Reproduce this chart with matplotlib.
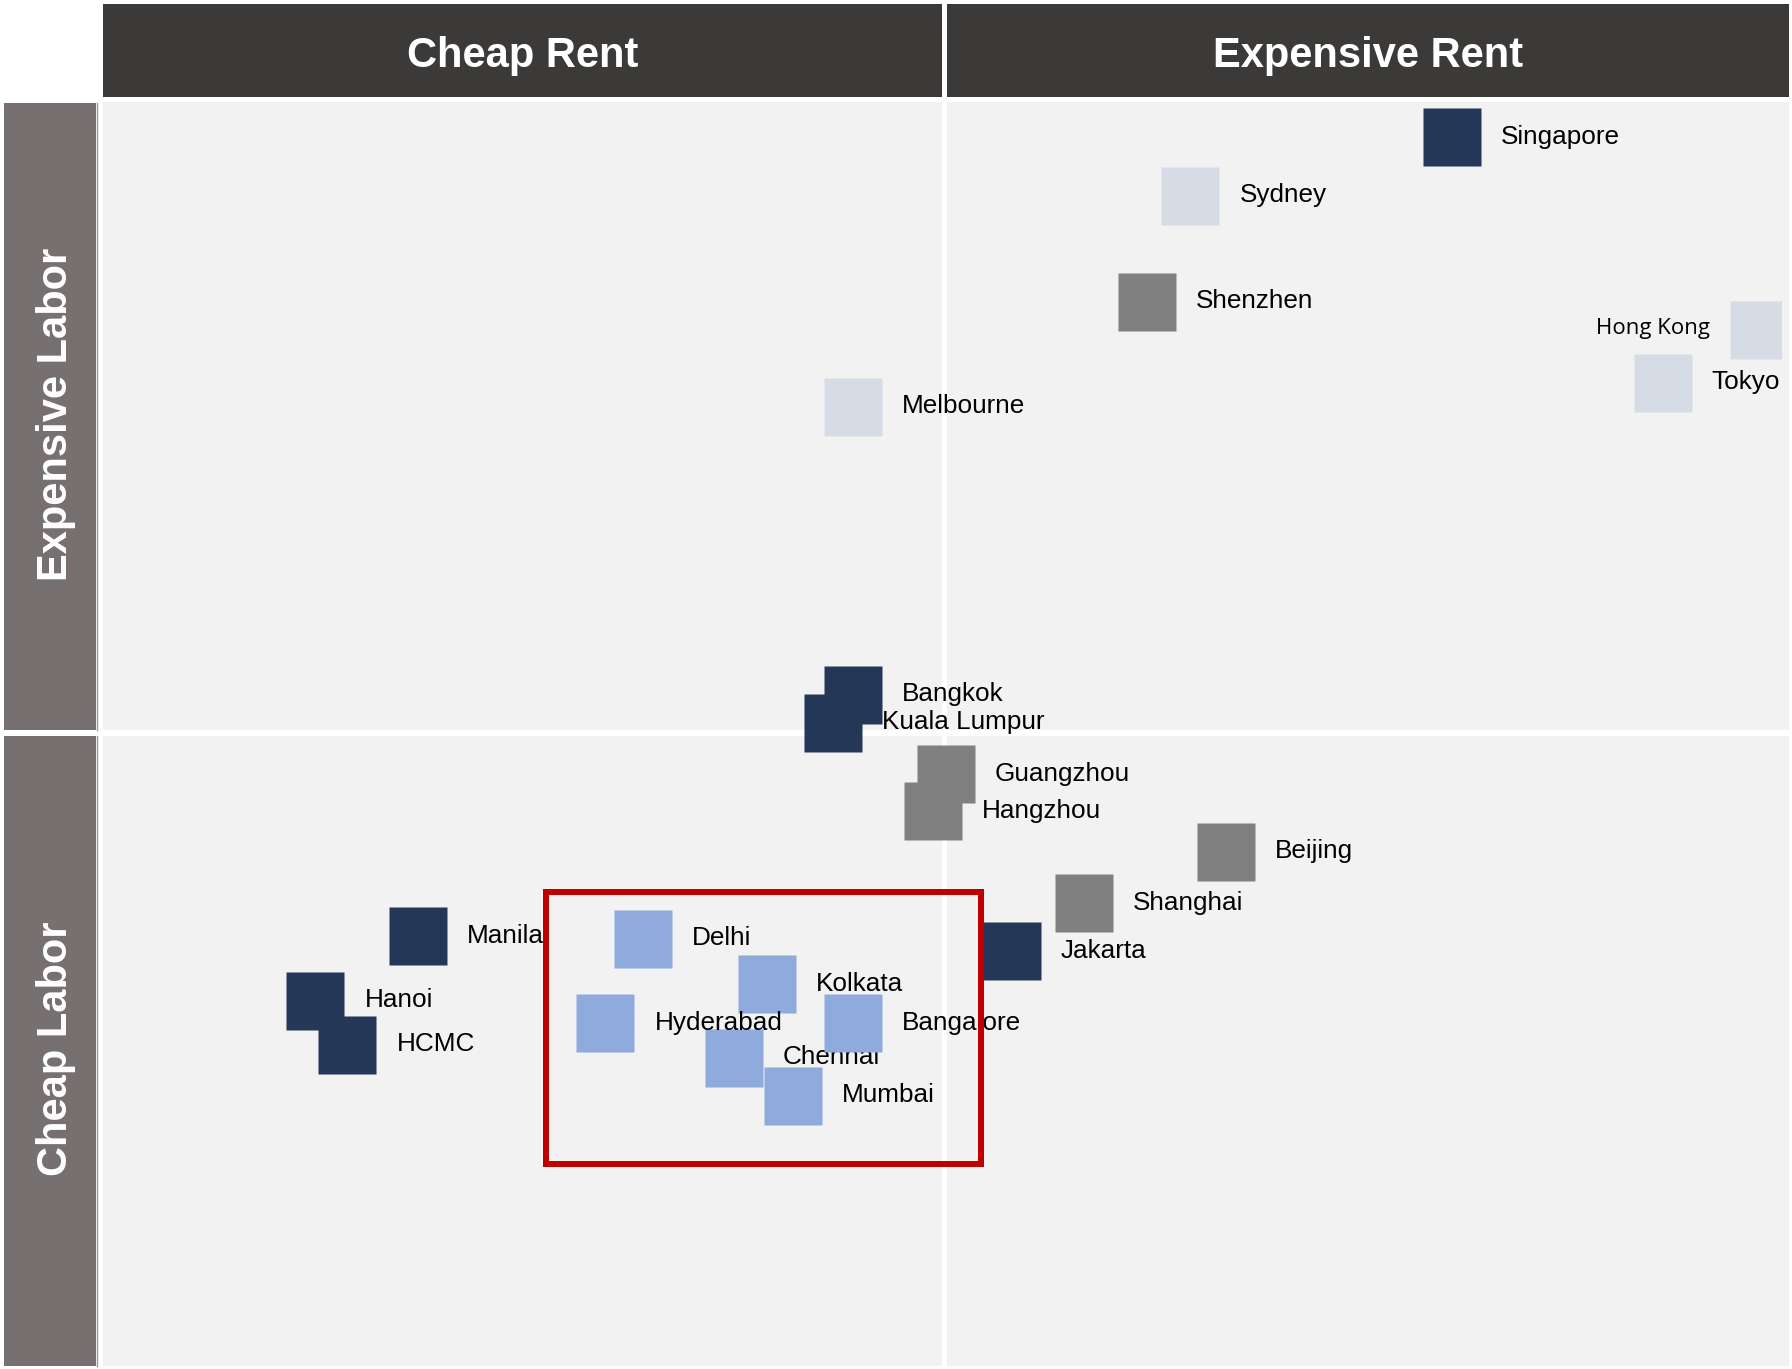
import matplotlib
matplotlib.use("Agg")
import matplotlib.pyplot as plt
from matplotlib.patches import Rectangle

# ---------------- data ----------------
cities = ["Singapore", "Sydney", "Shenzhen", "Hong Kong", "Tokyo", "Melbourne",
          "Bangkok", "Kuala Lumpur", "Guangzhou", "Hangzhou", "Beijing", "Shanghai",
          "Jakarta", "Manila", "Hanoi", "HCMC",
          "Delhi", "Kolkata", "Chennai", "Hyderabad", "Bangalore", "Mumbai"]
rent = [80.0, 64.5, 61.9, 98.2, 92.5, 44.5,
        44.5, 43.3, 50.0, 49.2, 66.6, 58.2,
        53.9, 18.7, 12.6, 14.5,
        32.0, 39.4, 37.4, 29.8, 44.5, 40.9]
labor = [97.2, 92.6, 84.2, 82.0, 77.8, 75.9,
         53.1, 50.9, 46.8, 43.9, 40.7, 36.6,
         32.8, 34.0, 28.9, 25.4,
         33.8, 30.2, 24.4, 27.1, 27.1, 21.4]
group = ["SEA", "AUJ", "CN", "AUJ", "AUJ", "AUJ",
         "SEA", "SEA", "CN", "CN", "CN", "CN",
         "SEA", "SEA", "SEA", "SEA",
         "IN", "IN", "IN", "IN", "IN", "IN"]
label_side = ["right"] * len(cities)
label_side[cities.index("Hong Kong")] = "left"

col_headers = ["Cheap Rent", "Expensive Rent"]
row_headers = ["Expensive Labor", "Cheap Labor"]

focus_rent = [26.3, 52.1]
focus_labor = [16.0, 37.5]

colors = {"SEA": "#243757", "CN": "#808080", "AUJ": "#D6DCE5", "IN": "#8FAADC"}

# ---------------- figure ----------------
W, H = 1792, 1369
fig = plt.figure(figsize=(W / 100, H / 100), dpi=100)
fig.patch.set_facecolor("white")

bg = fig.add_axes([0, 0, 1, 1])
bg.set_xlim(0, W)
bg.set_ylim(H, 0)
bg.axis("off")

header_c = "#3B3A38"
strip_c = "#767170"
panel_c = "#F2F2F2"

# headers
bg.add_patch(Rectangle((103, 3.5), 839, 93, fc=header_c, ec="none"))
bg.add_patch(Rectangle((947, 3.5), 842, 93, fc=header_c, ec="none"))
# left strips
bg.add_patch(Rectangle((4, 103), 92, 627, fc=strip_c, ec="none"))
bg.add_patch(Rectangle((4, 736), 92, 630, fc=strip_c, ec="none"))
bg.plot([96.5, 96.5], [103, 730], color="#9C9896", lw=1)
bg.plot([96.5, 96.5], [736, 1366], color="#9C9896", lw=1)
# quadrants
for (x0, w) in [(103, 839), (947, 842)]:
    for (y0, h) in [(102, 628), (736, 630)]:
        bg.add_patch(Rectangle((x0, y0), w, h, fc=panel_c, ec="none"))

hfont = dict(family="Liberation Sans", weight="bold", size=30, color="white")
bg.text((103 + 942) / 2, 55.5, col_headers[0], ha="center", va="center", **hfont)
bg.text((947 + 1789) / 2, 55.5, col_headers[1], ha="center", va="center", **hfont)
bg.text(56, (103 + 730) / 2 - 2, row_headers[0], ha="center", va="center", rotation=90, **hfont)
bg.text(56, (736 + 1366) / 2 - 2, row_headers[1], ha="center", va="center", rotation=90, **hfont)

# data axes
ax = fig.add_axes([103 / W, (H - 1366) / H, 1686 / W, 1264 / H])
ax.set_xlim(0, 100)
ax.set_ylim(0, 100)
ax.patch.set_alpha(0)
ax.axis("off")

clip = Rectangle((0, 0), (1781 - 103) / 1686, 1, transform=ax.transAxes,
                 fc="none", ec="none")
ax.add_patch(clip)

ms = 58 * 0.72
for name, x, y, g, side in zip(cities, rent, labor, group, label_side):
    ln, = ax.plot([x], [y], marker="s", ms=ms, mfc=colors[g], mec="none",
                  ls="none", zorder=3)
    ln.set_clip_path(clip)
    if side == "right":
        ax.annotate(name, (x, y), xytext=(35.3, -4.7), textcoords="offset points",
                    ha="left", va="baseline", family="Liberation Sans",
                    size=18.8, color="black", zorder=3)
    else:
        ax.annotate(name, (x, y), xytext=(-35.3, -3.2), textcoords="offset points",
                    ha="right", va="baseline", family="Open Sans",
                    size=16, color="black", zorder=3)

ax.add_patch(Rectangle((focus_rent[0], focus_labor[0]),
                       focus_rent[1] - focus_rent[0],
                       focus_labor[1] - focus_labor[0],
                       fill=False, ec="#C00000", lw=6 * 0.72, zorder=10))

fig.savefig("out.png", dpi=100)
